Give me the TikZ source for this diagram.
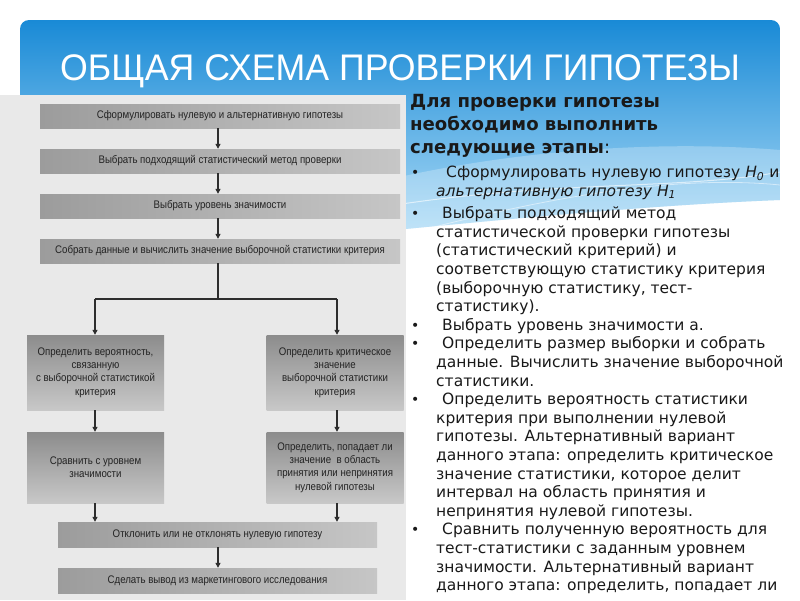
\documentclass[tikz,border=0pt]{standalone}
\usepackage{fontspec}
\setmainfont{DejaVu Sans}
\newfontfamily\titlefont[FakeStretch=0.965]{Liberation Sans}
\newfontfamily\boxfont[FakeStretch=0.88]{Liberation Sans}
\usetikzlibrary{arrows.meta}
\definecolor{hdA}{RGB}{25,138,214}
\definecolor{hdB}{RGB}{62,166,230}
\definecolor{hdC}{RGB}{170,218,246}
\definecolor{scanbg}{RGB}{233,233,233}
\definecolor{wL}{RGB}{156,156,156}
\definecolor{wR}{RGB}{198,198,198}
\definecolor{tT}{RGB}{140,140,140}
\definecolor{tB}{RGB}{200,200,200}
\definecolor{boxtxt}{RGB}{35,35,35}
\definecolor{arrc}{RGB}{45,45,45}
\definecolor{txt}{RGB}{25,25,25}
\begin{document}
\begin{tikzpicture}[x=1pt,y=-1pt,
  fbox/.style={inner sep=1pt, align=center, text=boxtxt, font=\boxfont\fontsize{11}{13.3}\selectfont},
  widebox/.style={fbox, left color=wL, right color=wR, minimum height=24pt},
  tallbox/.style={fbox, top color=tT, bottom color=tB, minimum width=137pt},
  arr/.style={draw=arrc, line width=1.2pt, -{Triangle[length=5pt,width=5pt]}},
  ln/.style={draw=arrc, line width=1.2pt},
  rt/.style={anchor=base west, inner sep=0pt, text=txt, font=\fontsize{15.5}{18}\selectfont},
  hd/.style={anchor=base west, inner sep=0pt, text=txt, font=\bfseries\fontsize{18.1}{20}\selectfont},
  bul/.style={anchor=base west, inner sep=0pt, text=txt, font=\fontsize{14}{16}\selectfont},
]
\useasboundingbox (0,0) rectangle (800,600);
\fill[white] (0,0) rectangle (800,600);
% blue header and right panel
\shade[top color=hdA, middle color=hdB, bottom color=hdC]
  (20,230) [rounded corners=9pt] -- (20,20) -- (780,20) -- (780,60) [sharp corners]
  -- (780,200) .. controls (650,205) and (500,220) .. (395,230) -- cycle;
\fill[white, opacity=0.25] (395,178) .. controls (520,150) and (660,140) .. (780,150)
  -- (780,200) .. controls (650,205) and (500,220) .. (395,230) -- cycle;
\draw[white, opacity=0.6, line width=1pt] (395,205) .. controls (560,180) and (680,190) .. (780,172);
\draw[white, opacity=0.5, line width=0.8pt] (430,228) .. controls (560,195) and (680,175) .. (780,185);
% scanned flowchart background
\fill[scanbg] (0,95) rectangle (406,600);
% title
\node[anchor=base, text=white, inner sep=0pt, font=\titlefont\fontsize{37}{40}\selectfont] (title) at (400,80) {ОБЩАЯ СХЕМА ПРОВЕРКИ ГИПОТЕЗЫ};
% flowchart boxes
\node[widebox, minimum width=360pt] (b1) at (220,116) {Сформулировать нулевую и альтернативную гипотезы};
\node[widebox, minimum width=360pt] (b2) at (220,161) {Выбрать подходящий статистический метод проверки};
\node[widebox, minimum width=360pt] (b3) at (220,206) {Выбрать уровень значимости};
\node[widebox, minimum width=360pt] (b4) at (220,251) {Собрать данные и вычислить значение выборочной статистики критерия};
\node[tallbox, minimum height=75pt] (b5) at (95.5,372.5) {Определить вероятность,\\связанную\\с выборочной статистикой\\критерия};
\node[tallbox, minimum height=75pt] (b6) at (335,372.5) {Определить критическое\\значение\\выборочной статистики\\критерия};
\node[tallbox, minimum height=71pt] (b7) at (95.5,467.5) {Сравнить с уровнем\\значимости};
\node[tallbox, minimum height=71pt] (b8) at (335,467.5) {Определить, попадает ли\\значение \ в область\\принятия или непринятия\\нулевой гипотезы};
\node[widebox, minimum width=319pt, minimum height=25pt] (b9) at (217.5,534.5) {Отклонить или не отклонять нулевую гипотезу};
\node[widebox, minimum width=319pt, minimum height=25pt] (b10) at (217.5,580.5) {Сделать вывод из маркетингового исследования};
% connectors
\coordinate (tx) at (218,0);
\coordinate (j) at (218,299);
\coordinate (jl) at (95,299);
\coordinate (jr) at (337,299);
\draw[arr] (b1.south -| tx) -- (b2.north -| tx);
\draw[arr] (b2.south -| tx) -- (b3.north -| tx);
\draw[arr] (b3.south -| tx) -- (b4.north -| tx);
\draw[ln] (b4.south -| tx) -- (j);
\draw[ln] (jl) -- (jr);
\draw[arr] (jl) -- (b5.north -| jl);
\draw[arr] (jr) -- (b6.north -| jr);
\draw[arr] (b5.south -| jl) -- (b7.north -| jl);
\draw[arr] (b6.south -| jr) -- (b8.north -| jr);
\draw[arr] (b7.south -| jl) -- (b9.north -| jl);
\draw[arr] (b8.south -| jr) -- (b9.north -| jr);
\draw[arr] (b9.south -| tx) -- (b10.north -| tx);
% right text
\node[hd] (h1) at (410,107) {Для проверки гипотезы};
\node[hd] (h2) at (410,130) {необходимо выполнить};
\node[hd] (h3) at (410,153) {следующие этапы\mdseries:};
\node[bul] (u1) at (411,177) {•};
\node[rt] (r1) at (446,177) {Сформулировать нулевую гипотезу \textit{H}\textsubscript{\textit{0}} и};
\node[rt] (r2) at (436,196) {\itshape альтернативную гипотезу H\textsubscript{1}};
\node[bul] (u2) at (411,218.6) {•};
\node[rt] (r3) at (442,218.6) {Выбрать подходящий метод};
\node[rt] (r4) at (436,237.2) {статистической проверки гипотезы};
\node[rt] (r5) at (436,255.8) {(статистический критерий) и};
\node[rt] (r6) at (436,274.4) {соответствующую статистику критерия};
\node[rt] (r7) at (436,293) {(выборочную статистику, тест-};
\node[rt] (r8) at (436,311.6) {статистику).};
\node[bul] (u3) at (411,330.2) {•};
\node[rt] (r9) at (442,330.2) {Выбрать уровень значимости а.};
\node[bul] (u4) at (411,348.8) {•};
\node[rt] (r10) at (442,348.8) {Определить размер выборки и собрать};
\node[rt] (r11) at (436,367.4) {данные. Вычислить значение выборочной};
\node[rt] (r12) at (436,386) {статистики.};
\node[bul] (u5) at (411,404.6) {•};
\node[rt] (r13) at (442,404.6) {Определить вероятность статистики};
\node[rt] (r14) at (436,423.2) {критерия при выполнении нулевой};
\node[rt] (r15) at (436,441.8) {гипотезы. Альтернативный вариант};
\node[rt] (r16) at (436,460.4) {данного этапа: определить критическое};
\node[rt] (r17) at (436,479) {значение статистики, которое делит};
\node[rt] (r18) at (436,497.6) {интервал на область принятия и};
\node[rt] (r19) at (436,516.2) {непринятия нулевой гипотезы.};
\node[bul] (u6) at (411,534.8) {•};
\node[rt] (r20) at (442,534.8) {Сравнить полученную вероятность для};
\node[rt] (r21) at (436,553.4) {тест-статистики с заданным уровнем};
\node[rt] (r22) at (436,572) {значимости. Альтернативный вариант};
\node[rt] (r23) at (436,590.6) {данного этапа: определить, попадает ли};
\end{tikzpicture}
\end{document}
